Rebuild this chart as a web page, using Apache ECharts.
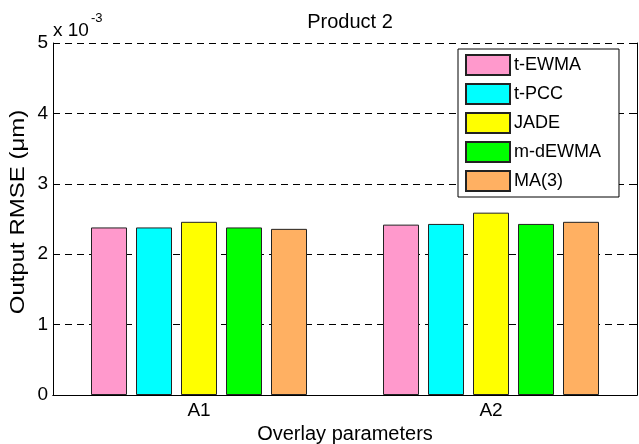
<!DOCTYPE html>
<html>
<head>
<meta charset="utf-8">
<script src="https://cdn.jsdelivr.net/npm/echarts@6/dist/echarts.min.js"></script>
<style>
  html, body { margin: 0; padding: 0; background: #fff; }
  #chart { width: 639px; height: 444px; }
</style>
</head>
<body>
<div id="chart"></div>
<script>
// Output RMSE per method, in units of 1e-3 µm
const categories = ['A1', 'A2'];
const methods = ['t-EWMA', 't-PCC', 'JADE', 'm-dEWMA', 'MA(3)'];
const tEWMA = [2.38, 2.42];
const tPCC = [2.38, 2.43];
const jade = [2.46, 2.59];
const mdEWMA = [2.38, 2.43];
const ma3 = [2.36, 2.46];
const yTicks = [0, 1, 2, 3, 4, 5];

const colors = ['#ff99cc', '#00ffff', '#ffff00', '#00ff00', '#ffb062'];
const seriesValues = [tEWMA, tPCC, jade, mdEWMA, ma3];
const FONT = 'Liberation Sans, Arial, sans-serif';

const chart = echarts.init(document.getElementById('chart'), null, { renderer: 'canvas' });

const series = methods.map((name, i) => ({
  name: name,
  type: 'bar',
  data: seriesValues[i],
  barWidth: 36,
  barGap: '25%',
  itemStyle: { color: colors[i], borderColor: '#222', borderWidth: 1 },
  emphasis: { disabled: true }
}));

chart.setOption({
  animation: false,
  textStyle: { fontFamily: FONT },
  title: {
    text: 'Product 2',
    left: 345,
    top: 7,
    textAlign: 'center',
    textStyle: { fontFamily: FONT, fontSize: 20, fontWeight: 'normal', color: '#000' }
  },
  legend: {
    data: methods,
    orient: 'vertical',
    left: 458,
    top: 49,
    padding: [5, 18, 5, 7],
    itemWidth: 44,
    itemHeight: 20,
    itemGap: 7,
    icon: 'rect',
    backgroundColor: '#fff',
    borderColor: '#000',
    borderWidth: 1,
    textStyle: { fontFamily: FONT, fontSize: 18, color: '#000', padding: [0, 0, 0, -1] }
  },
  grid: { left: 53, right: 2, top: 43, bottom: 49, containLabel: false, outerBoundsMode: 'none' },
  xAxis: [
    {
      type: 'category',
      data: categories,
      position: 'bottom',
      axisLine: { lineStyle: { color: '#000', width: 1 } },
      axisTick: { inside: true, length: 5, alignWithLabel: true, lineStyle: { color: '#000' } },
      axisLabel: { fontFamily: FONT, fontSize: 19, color: '#000', margin: 6 },
      name: 'Overlay parameters',
      nameLocation: 'middle',
      nameGap: 28,
      nameTextStyle: { fontFamily: FONT, fontSize: 20, color: '#000' }
    },
    {
      type: 'category',
      data: categories,
      position: 'top',
      axisLine: { lineStyle: { color: '#000', width: 1 } },
      axisTick: { inside: true, length: 5, alignWithLabel: true, lineStyle: { color: '#000' } },
      axisLabel: { show: false }
    }
  ],
  yAxis: [
    {
      type: 'value',
      min: 0,
      max: 5,
      interval: 1,
      position: 'left',
      axisLine: { show: true, lineStyle: { color: '#000', width: 1 } },
      axisTick: { show: true, inside: true, length: 5, lineStyle: { color: '#000' } },
      axisLabel: {
        fontFamily: FONT, fontSize: 19, color: '#000', margin: 5,
        formatter: v => (yTicks.includes(v) ? String(v) : '')
      },
      splitLine: { show: true, lineStyle: { color: '#000', type: [7, 5], width: 1 } }
    },
    {
      type: 'value',
      min: 0,
      max: 5,
      interval: 1,
      position: 'right',
      axisLine: { show: true, lineStyle: { color: '#000', width: 1 } },
      axisTick: { show: true, inside: true, length: 5, lineStyle: { color: '#000' } },
      axisLabel: { show: false },
      splitLine: { show: false }
    }
  ],
  graphic: [
    {
      // rotated y-axis title, slightly elongated along its reading direction
      type: 'text',
      x: 18,
      y: 212,
      rotation: Math.PI / 2,
      scaleX: 1.2,
      z: 10,
      style: {
        text: 'Output RMSE (\u03bcm)',
        font: '20px ' + FONT,
        fill: '#000',
        textAlign: 'center',
        textVerticalAlign: 'middle'
      }
    },
    {
      type: 'text',
      x: 53,
      y: 40,
      z: 10,
      style: {
        text: 'x 10',
        font: '19px ' + FONT,
        fill: '#000',
        textVerticalAlign: 'bottom'
      }
    },
    {
      type: 'text',
      x: 91,
      y: 25,
      z: 10,
      style: {
        text: '-3',
        font: '13px ' + FONT,
        fill: '#000',
        textVerticalAlign: 'bottom'
      }
    }
  ],
  series: series
});
</script>
</body>
</html>
